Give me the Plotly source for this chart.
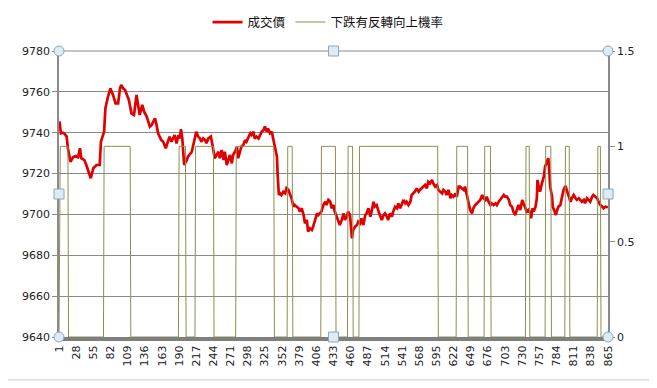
import plotly.graph_objects as go

# ---------------- data ----------------
price_idx = [1, 2, 4, 7, 10, 13, 15, 19, 23, 27, 31, 34, 36, 41, 44, 47, 51, 55, 57, 60, 65, 67, 72, 74, 78,
             82, 86, 90, 94, 97, 99, 102, 105, 107, 111, 115, 119, 123, 126, 128, 132, 135, 139, 144,
             147, 152, 154, 157, 162, 165, 169, 173, 175, 178, 181, 183, 186, 189, 191, 193, 195, 198,
             202, 204, 210, 214, 217, 220, 223, 225, 228, 231, 233, 236, 240, 243, 246, 249, 252, 254,
             257, 260, 262, 265, 267, 270, 273, 275, 278, 281, 283, 286, 288, 291, 294, 296, 299, 302,
             304, 307, 309, 312, 315, 317, 320, 323, 325, 328, 330, 333, 336, 338, 341, 344, 345, 347,
             349, 351, 354, 357, 359, 362, 365, 367, 370, 372, 375, 378, 380, 383, 386, 388, 391, 393,
             396, 399, 401, 404, 407, 409, 412, 414, 417, 420, 422, 425, 428, 430, 433, 435, 438, 441,
             443, 446, 449, 451, 454, 456, 459, 462, 464, 467, 470, 472, 475, 477, 480, 483, 485, 488,
             491, 493, 496, 498, 501, 504, 506, 509, 512, 514, 517, 519, 522, 525, 527, 530, 533, 535,
             538, 540, 543, 546, 548, 551, 554, 556, 559, 561, 564, 567, 569, 572, 575, 577, 580, 582,
             585, 588, 590, 593, 596, 598, 601, 604, 606, 609, 611, 614, 617, 619, 622, 625, 627, 630,
             632, 635, 638, 640, 643, 646, 648, 651, 653, 656, 659, 661, 664, 667, 669, 672, 674, 677,
             680, 682, 685, 688, 690, 693, 695, 698, 701, 703, 706, 709, 711, 714, 716, 719, 722, 724,
             727, 730, 732, 735, 737, 740, 743, 744, 746, 748, 751, 753, 754, 756, 758, 761, 764, 766,
             769, 771, 772, 773, 774, 777, 778, 781, 783, 785, 787, 790, 793, 795, 798, 800, 803, 806,
             808, 811, 814, 816, 819, 821, 824, 827, 829, 832, 835, 837, 840, 842, 845, 848, 850, 853,
             856, 858, 861, 865]
price = [9745.4, 9745.0, 9739.7, 9740.0, 9739.4, 9738.1, 9732.4, 9725.8, 9728.0, 9728.6, 9728.0, 9732.4,
         9727.5, 9726.6, 9724.2, 9720.9, 9717.7, 9722.6, 9723.1, 9724.2, 9724.2, 9735.6, 9740.5, 9751.9,
         9757.6, 9761.7, 9758.5, 9754.4, 9754.4, 9761.7, 9763.4, 9761.7, 9760.9, 9759.3, 9756.0, 9749.5,
         9748.7, 9758.5, 9751.9, 9748.7, 9753.6, 9750.3, 9747.9, 9743.0,
         9743.8, 9747.0, 9744.6, 9739.7, 9736.4, 9735.6, 9732.4, 9735.6, 9738.1, 9735.6, 9737.2, 9738.9,
         9734.8, 9738.9, 9737.2, 9741.7, 9737.2, 9724.2, 9726.6, 9728.3, 9730.7, 9736.4, 9740.5, 9738.1,
         9737.2, 9735.6, 9737.2, 9736.4, 9734.8, 9737.2, 9738.1, 9733.2, 9727.5, 9729.1, 9730.7, 9727.5,
         9731.5, 9726.6, 9730.7, 9724.2, 9726.6, 9729.1, 9725.0, 9729.1, 9730.7, 9733.0, 9727.5, 9731.5,
         9733.2, 9734.0, 9736.4, 9735.6, 9738.1, 9739.7, 9738.9, 9740.5, 9737.2, 9738.1, 9737.2, 9738.9,
         9740.5, 9741.3, 9743.0, 9740.5, 9742.1, 9739.7, 9740.5, 9737.2, 9733.2, 9728.3, 9720.1, 9709.5,
         9710.3, 9709.5, 9711.1, 9710.3, 9712.8, 9712.0, 9709.5, 9707.9, 9703.8, 9704.6, 9703.8, 9703.0,
         9701.4, 9703.0, 9699.7, 9695.6, 9697.3, 9691.6, 9693.2, 9692.4, 9694.0, 9697.3, 9700.5, 9699.7,
         9700.5, 9701.4, 9704.6, 9706.2, 9704.6, 9707.1, 9706.2, 9703.0, 9704.6, 9701.4, 9698.9, 9696.5,
         9694.8, 9697.3, 9700.5, 9697.3, 9698.9, 9701.4, 9699.7, 9688.3, 9692.4, 9694.0, 9694.8, 9696.5,
         9695.6, 9698.1, 9694.8, 9699.7, 9700.5, 9703.0, 9698.9, 9701.4, 9706.2, 9703.8, 9704.6, 9701.4,
         9699.7, 9697.3, 9699.7, 9700.5, 9698.9, 9697.3, 9700.5, 9698.9, 9701.4, 9703.8, 9703.0, 9705.4,
         9703.0, 9704.6, 9707.1, 9705.4, 9706.2, 9704.6, 9706.2, 9709.5, 9710.3, 9711.1, 9712.8, 9711.1,
         9712.0, 9712.8, 9713.6, 9714.4, 9712.8, 9716.0, 9715.2, 9716.9, 9715.2, 9713.6, 9714.4, 9712.0,
         9711.1, 9710.3, 9712.0, 9711.1, 9709.5, 9712.0, 9707.9, 9709.5, 9708.7, 9710.3, 9708.7, 9713.6,
         9713.6, 9712.8, 9712.0, 9713.6, 9709.5, 9703.8, 9702.2, 9700.5, 9703.0, 9704.6, 9705.4, 9706.2,
         9707.1, 9709.5, 9707.9, 9707.1, 9708.7, 9706.2, 9704.6, 9705.4, 9704.6, 9705.4, 9704.6, 9706.2,
         9707.1, 9707.9, 9709.5, 9708.7, 9708.7, 9707.1, 9704.6, 9703.8, 9701.4, 9699.7, 9703.0, 9704.6,
         9702.2, 9707.1, 9705.4, 9703.0, 9701.4, 9702.2, 9700.5, 9698.1, 9703.0, 9701.4, 9703.8, 9707.9,
         9716.9, 9713.6, 9711.1, 9715.2, 9718.5, 9723.4, 9726.6, 9727.5, 9724.2, 9718.5, 9713.6, 9708.7,
         9703.8, 9701.4, 9699.7, 9702.2, 9703.8, 9704.6, 9709.5, 9712.0, 9713.9, 9712.0, 9708.7, 9706.2,
         9707.9, 9709.5, 9707.9, 9707.1, 9707.9, 9707.1, 9706.2, 9707.1, 9705.4, 9707.9, 9707.1, 9706.2,
         9708.7, 9709.5, 9708.7, 9707.9, 9706.2, 9704.6, 9703.8, 9703.0, 9703.8, 9703.5]

# indices where the 0/1 series switches on and off
prob_on_start = [2, 72, 190, 216, 280, 361, 414, 456, 474, 627, 671, 736, 767, 798, 849]
prob_on_end = [15, 113, 200, 244, 339, 368, 436, 463, 597, 644, 680, 741, 775, 804, 853]
n_points = 865

tick_labels = [1, 28, 55, 82, 109, 136, 163, 190, 217, 244, 271, 298, 325, 352, 379, 406, 433, 460,
               487, 514, 541, 568, 595, 622, 649, 676, 703, 730, 757, 784, 811, 838, 865]

y_ticks = [9640, 9660, 9680, 9700, 9720, 9740, 9760, 9780]
y2_ticks = [0, 0.5, 1, 1.5]
y2_labels = ["0", "0.5", "1", "1.5"]

# build the 0/1 series from the intervals
prob_idx = list(range(1, n_points + 1))
prob = [0] * n_points
for s, e in zip(prob_on_start, prob_on_end):
    for k in range(s, e + 1):
        prob[k - 1] = 1

# ---------------- figure ----------------
fig = go.Figure()
fig.add_trace(go.Scatter(x=prob_idx, y=prob, mode="lines", name="下跌有反轉向上機率",
                         line=dict(color="#8E8E4E", width=1), yaxis="y2", legendrank=2))
fig.add_trace(go.Scatter(x=price_idx, y=price, mode="lines", name="成交價",
                         line=dict(color="#E00000", width=2.7), legendrank=1))

font_axis = dict(family="DejaVu Sans", size=11, color="#222222")

# page body has an 8px default margin, so the figure is 8px smaller and margins shifted
fig.update_layout(
    width=649, height=380,
    margin=dict(l=51, r=49, t=43, b=51, autoexpand=False),
    paper_bgcolor="white", plot_bgcolor="white",
    showlegend=True,
    legend=dict(orientation="h", x=0.49, xanchor="center", y=1.10, yanchor="middle",
                font=dict(family="Noto Sans CJK TC", size=12.5, color="#111111"),
                itemwidth=30, bgcolor="rgba(0,0,0,0)"),
    xaxis=dict(range=[1, 865], tickmode="array", tickvals=tick_labels,
               ticktext=[str(t) for t in tick_labels], tickangle=-90, tickfont=font_axis,
               showgrid=False, zeroline=False, showline=True, linecolor="#7F7F7F", linewidth=4,
               ticks="", automargin=False),
    yaxis=dict(range=[9640, 9780], tickmode="array", tickvals=y_ticks,
               ticktext=[str(t) for t in y_ticks], tickfont=font_axis,
               showgrid=True, gridcolor="#8A8A8A", gridwidth=1, zeroline=False,
               showline=True, linecolor="#8A8A8A", linewidth=1.5,
               ticks="outside", ticklen=5, tickcolor="#8A8A8A", automargin=False),
    yaxis2=dict(range=[0, 1.5], overlaying="y", side="right", tickmode="array",
                tickvals=y2_ticks, ticktext=y2_labels, tickfont=font_axis,
                showgrid=False, zeroline=False, showline=True, linecolor="#8A8A8A", linewidth=1.5,
                ticks="outside", ticklen=5, tickcolor="#8A8A8A", automargin=False),
)

shapes = []
# top gridline
shapes.append(dict(type="line", xref="paper", yref="paper", x0=0, x1=1, y0=1, y1=1,
                   line=dict(color="#8A8A8A", width=1)))
# chart frame (right and bottom edges visible)
shapes.append(dict(type="rect", xref="paper", yref="paper", x0=-0.2, x1=1.079, y0=-0.150, y1=1.3,
                   line=dict(color="#C9CDD3", width=1), layer="below"))
# selection handles
for (ax, ay, kind) in [(0, 0, "circle"), (1, 0, "circle"), (0, 1, "circle"), (1, 1, "circle"),
                       (0.5, 0, "rect"), (0.5, 1, "rect"), (0, 0.5, "rect"), (1, 0.5, "rect")]:
    shapes.append(dict(type=kind, xref="paper", yref="paper", xsizemode="pixel", ysizemode="pixel",
                       xanchor=ax, yanchor=ay, x0=-5, x1=5, y0=-5, y1=5,
                       fillcolor="#DCEBF5", line=dict(color="#8FA6B8", width=1), layer="above"))
fig.update_layout(shapes=shapes)

fig.write_html("out.html")
